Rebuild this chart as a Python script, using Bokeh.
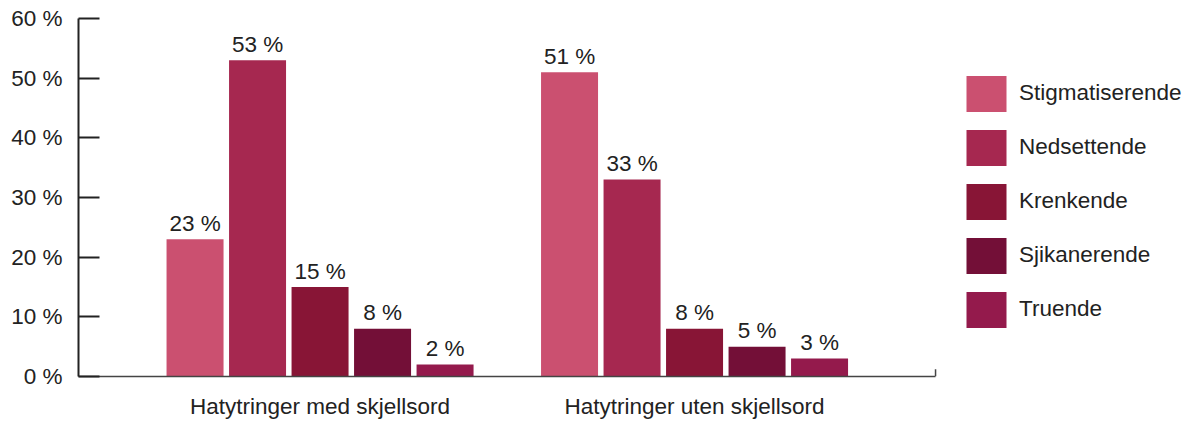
from bokeh.plotting import figure
from bokeh.models import FixedTicker, Legend, LegendItem, ColumnDataSource, Range1d
from bokeh.core.properties import value
from bokeh.embed import file_html
from bokeh.resources import INLINE

groups = ["Hatytringer med skjellsord", "Hatytringer uten skjellsord"]
series = ["Stigmatiserende", "Nedsettende", "Krenkende", "Sjikanerende", "Truende"]
stigmatiserende = [23, 51]
nedsettende = [53, 33]
krenkende = [15, 8]
sjikanerende = [8, 5]
truende = [2, 3]
colors = ["#CB5070", "#A62850", "#881536", "#730F37", "#941A4C"]
y_ticks = [0, 10, 20, 30, 40, 50, 60]

series_values = [stigmatiserende, nedsettende, krenkende, sjikanerende, truende]

FONT = "Liberation Sans"
FS = "22.5px"
TXT = "#222222"

W, H = 1192, 421
LEFT, TOP, BOTTOM, RIGHT = 78, 18, 44, 2
PX_PER_UNIT = 374.5
step = 0.1669
bar_w = 0.1522
x_start = -0.645
x_axis_end = 1.6435
x_end = x_start + (W - LEFT - RIGHT) / PX_PER_UNIT

p = figure(width=W, height=H, x_range=Range1d(x_start, x_end), y_range=Range1d(0, 60),
           output_backend="svg", toolbar_location=None,
           min_border_left=LEFT, min_border_top=TOP, min_border_bottom=BOTTOM, min_border_right=RIGHT)
p.outline_line_color = None
p.xgrid.visible = False
p.ygrid.visible = False

items = []
for j, (name, vals, col) in enumerate(zip(series, series_values, colors)):
    xs = [i + (j - 2) * step for i in range(len(groups))]
    src = ColumnDataSource(dict(x=xs, top=vals, label=[f"{v} %" for v in vals]))
    r = p.vbar(x="x", top="top", width=bar_w, bottom=0, source=src, fill_color=col, line_color=None)
    p.text(x="x", y="top", text="label", source=src, text_align="center", text_baseline="alphabetic",
           y_offset=-16, text_font=value(FONT), text_font_size=FS, text_color=TXT)
    items.append(LegendItem(label=name, renderers=[r]))

# right-end tick of the x axis
p.segment(x0=[x_axis_end], y0=[0], x1=[x_axis_end], y1=[1.2], line_color="#444444", line_width=1.5)

yax = p.yaxis[0]
yax.ticker = FixedTicker(ticks=y_ticks)
yax.major_label_overrides = {t: f"{t} %" for t in y_ticks}
yax.major_tick_in = 21
yax.major_tick_out = 0
yax.minor_tick_line_color = None
yax.major_label_standoff = 16
yax.major_label_text_font = FONT
yax.major_label_text_font_size = FS
yax.major_label_text_color = TXT
yax.axis_line_color = "#222222"
yax.axis_line_width = 2
yax.major_tick_line_color = "#222222"
yax.major_tick_line_width = 2

xax = p.xaxis[0]
xax.bounds = (x_start, x_axis_end)
xax.ticker = FixedTicker(ticks=list(range(len(groups))))
xax.major_label_overrides = {i: g for i, g in enumerate(groups)}
xax.major_tick_in = 0
xax.major_tick_out = 0
xax.minor_tick_line_color = None
xax.major_label_standoff = 17
xax.major_label_text_font = FONT
xax.major_label_text_font_size = FS
xax.major_label_text_color = TXT
xax.axis_line_color = "#444444"
xax.axis_line_width = 1.5

legend = Legend(items=items, location=(883, 44.5), glyph_width=50, glyph_height=45, spacing=9,
                label_standoff=8, label_text_font=FONT, label_text_font_size=FS,
                label_text_color=TXT, padding=0, margin=0, border_line_color=None,
                background_fill_alpha=0)
p.add_layout(legend, "center")

open("out.html", "w").write(file_html(p, INLINE))
